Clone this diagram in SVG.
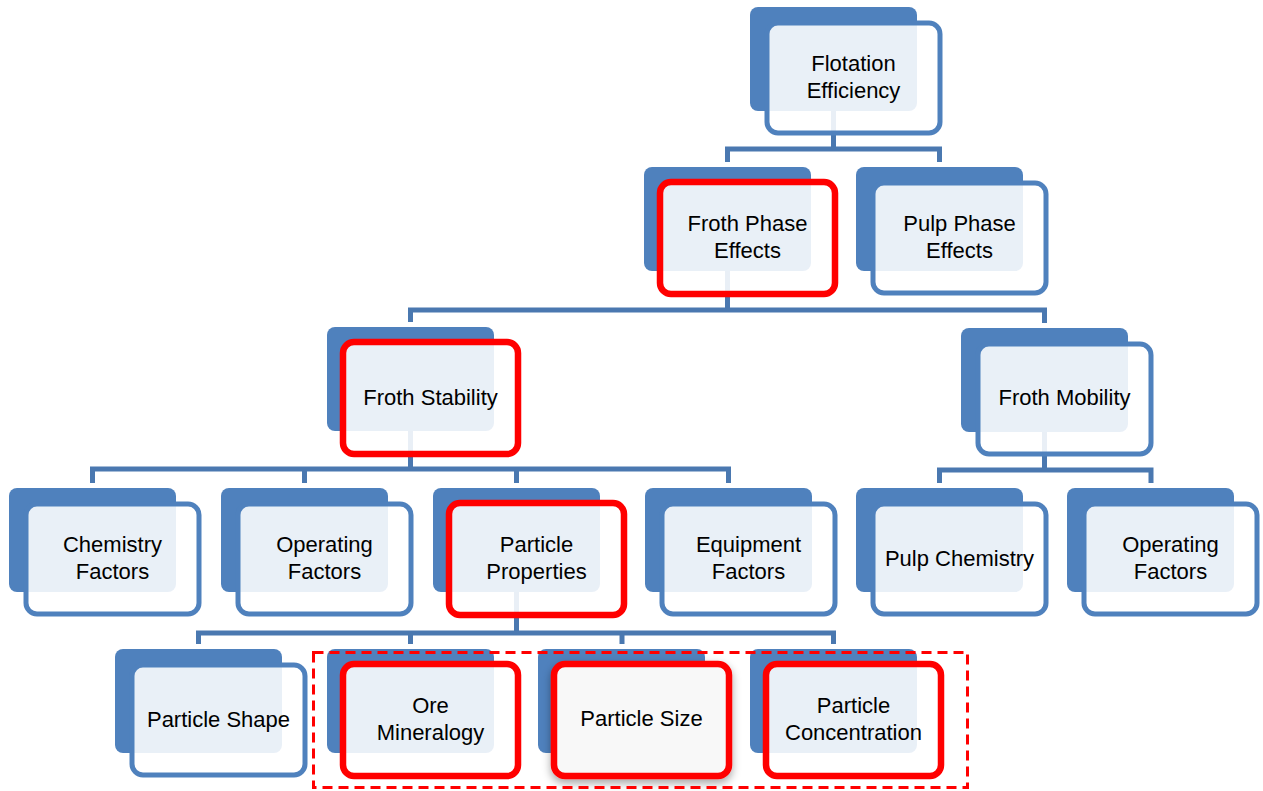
<svg xmlns="http://www.w3.org/2000/svg" width="1263" height="791" viewBox="0 0 1263 791">
<style>
.back{fill:#4F81BD}
.front{fill:#FFFFFF;fill-opacity:0.88;stroke:#4F81BD;stroke-width:5}
.hl{stroke:#FF0000;stroke-width:6.5}
.solid{fill:#F8F8F8;fill-opacity:1}
.t{font-family:"Liberation Sans",Arial,sans-serif;font-size:22px;fill:#000;text-anchor:middle}
.conn{fill:none;stroke:#4A78B0;stroke-width:5;stroke-linejoin:miter;stroke-linecap:butt}
.group{fill:none;stroke:#FF0000;stroke-width:3;stroke-dasharray:10 6}
</style>
<defs>
<filter id="shadow" x="-20%" y="-20%" width="140%" height="150%">
<feDropShadow dx="0" dy="4" stdDeviation="4" flood-color="#000" flood-opacity="0.35"/>
</filter>
</defs>
<rect width="1263" height="791" fill="#FFFFFF"/>
<g id="connectors">
<path class="conn" d="M833.5,111 V149 M727.5,162 V149 H939.5 V162"/>
<path class="conn" d="M727.5,271 V310 M410.5,322 V310 H1044.5 V323"/>
<path class="conn" d="M410.5,431 V469 M92.5,483 V469 H728.5 V483 M304.5,469 V483 M516.5,469 V483"/>
<path class="conn" d="M1044.5,432 V470 M939.5,483 V470 H1151 V483"/>
<path class="conn" d="M516.5,592 V633 M198.5,644 V633 H833.5 V644 M410.5,633 V644 M622,633 V644"/>
</g>
<g id="n-flotation" transform="translate(750,7)">
<rect class="back" width="167" height="104" rx="8"/>
<rect class="front" x="17" y="16" width="173" height="110" rx="11"/>
<text class="t" x="103.5" y="64">Flotation</text>
<text class="t" x="103.5" y="91">Efficiency</text>
</g>
<g id="n-froth-phase" transform="translate(644,167)">
<rect class="back" width="167" height="104" rx="8"/>
<rect class="front hl" x="16" y="15" width="175" height="112" rx="11"/>
<text class="t" x="103.5" y="64">Froth Phase</text>
<text class="t" x="103.5" y="91">Effects</text>
</g>
<g id="n-pulp-phase" transform="translate(856,167)">
<rect class="back" width="167" height="104" rx="8"/>
<rect class="front" x="17" y="16" width="173" height="110" rx="11"/>
<text class="t" x="103.5" y="64">Pulp Phase</text>
<text class="t" x="103.5" y="91">Effects</text>
</g>
<g id="n-froth-stability" transform="translate(327,327)">
<rect class="back" width="167" height="104" rx="8"/>
<rect class="front hl" x="16" y="15" width="175" height="112" rx="11"/>
<text class="t" x="103.5" y="78">Froth Stability</text>
</g>
<g id="n-froth-mobility" transform="translate(961,328)">
<rect class="back" width="167" height="104" rx="8"/>
<rect class="front" x="17" y="16" width="173" height="110" rx="11"/>
<text class="t" x="103.5" y="77">Froth Mobility</text>
</g>
<g id="n-chemistry" transform="translate(9,488)">
<rect class="back" width="167" height="104" rx="8"/>
<rect class="front" x="17" y="16" width="173" height="110" rx="11"/>
<text class="t" x="103.5" y="64">Chemistry</text>
<text class="t" x="103.5" y="91">Factors</text>
</g>
<g id="n-operating" transform="translate(221,488)">
<rect class="back" width="167" height="104" rx="8"/>
<rect class="front" x="17" y="16" width="173" height="110" rx="11"/>
<text class="t" x="103.5" y="64">Operating</text>
<text class="t" x="103.5" y="91">Factors</text>
</g>
<g id="n-particle-properties" transform="translate(433,488)">
<rect class="back" width="167" height="104" rx="8"/>
<rect class="front hl" x="16" y="15" width="175" height="112" rx="11"/>
<text class="t" x="103.5" y="64">Particle</text>
<text class="t" x="103.5" y="91">Properties</text>
</g>
<g id="n-equipment" transform="translate(645,488)">
<rect class="back" width="167" height="104" rx="8"/>
<rect class="front" x="17" y="16" width="173" height="110" rx="11"/>
<text class="t" x="103.5" y="64">Equipment</text>
<text class="t" x="103.5" y="91">Factors</text>
</g>
<g id="n-pulp-chemistry" transform="translate(856,488)">
<rect class="back" width="167" height="104" rx="8"/>
<rect class="front" x="17" y="16" width="173" height="110" rx="11"/>
<text class="t" x="103.5" y="78">Pulp Chemistry</text>
</g>
<g id="n-operating-2" transform="translate(1067,488)">
<rect class="back" width="167" height="104" rx="8"/>
<rect class="front" x="17" y="16" width="173" height="110" rx="11"/>
<text class="t" x="103.5" y="64">Operating</text>
<text class="t" x="103.5" y="91">Factors</text>
</g>
<g id="n-particle-shape" transform="translate(115,649)">
<rect class="back" width="167" height="104" rx="8"/>
<rect class="front" x="17" y="16" width="173" height="110" rx="11"/>
<text class="t" x="103.5" y="78">Particle Shape</text>
</g>
<g id="n-ore-mineralogy" transform="translate(327,649)">
<rect class="back" width="167" height="104" rx="8"/>
<rect class="front hl" x="16" y="15" width="175" height="112" rx="11"/>
<text class="t" x="103.5" y="64">Ore</text>
<text class="t" x="103.5" y="91">Mineralogy</text>
</g>
<g id="n-particle-size" transform="translate(538,649)">
<rect class="back" width="167" height="104" rx="8"/>
<rect class="front hl solid" x="16" y="15" width="175" height="112" rx="11" filter="url(#shadow)"/>
<text class="t" x="103.5" y="77">Particle Size</text>
</g>
<g id="n-particle-concentration" transform="translate(750,649)">
<rect class="back" width="167" height="104" rx="8"/>
<rect class="front hl" x="16" y="15" width="175" height="112" rx="11"/>
<text class="t" x="103.5" y="64">Particle</text>
<text class="t" x="103.5" y="91">Concentration</text>
</g>
<g id="highlight-group">
<rect class="group" x="313.5" y="652.5" width="654" height="135"/>
</g>
</svg>
